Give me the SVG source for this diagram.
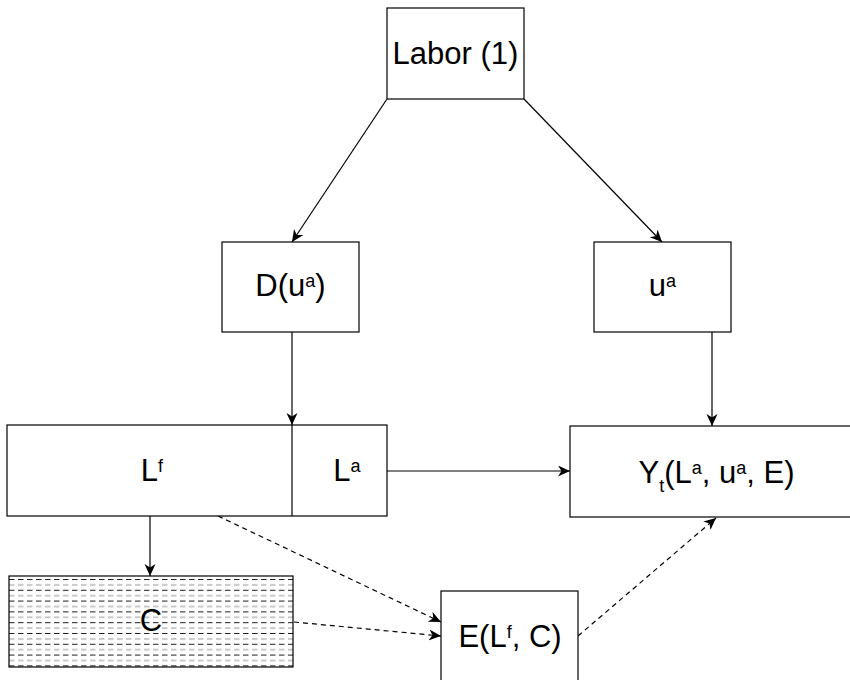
<svg xmlns="http://www.w3.org/2000/svg" width="850" height="680" viewBox="0 0 850 680">
<defs>
<style>
.box{fill:#fff;stroke:#000;stroke-width:1.2}
.t{font-family:"Liberation Sans",Arial,sans-serif;font-size:31px;fill:#000;text-anchor:middle}
.s{font-size:18px}
.e{fill:none;stroke:#000;stroke-width:1.2}
.d{stroke-dasharray:5 4}
</style>
<marker id="ah" markerUnits="userSpaceOnUse" markerWidth="14" markerHeight="12" refX="12" refY="5.5" orient="auto">
<path d="M0,0 L12,5.5 L0,11 L3.5,5.5 Z" fill="#000"/>
</marker>
<pattern id="hatch" patternUnits="userSpaceOnUse" x="9" y="578" width="9" height="10.8">
<line x1="0" y1="1.5" x2="5.5" y2="1.5" stroke="#000" stroke-width="0.9"/>
<line x1="0" y1="6.9" x2="5.5" y2="6.9" stroke="#888" stroke-width="0.9"/>
</pattern>
</defs>
<rect width="850" height="680" fill="#fff"/>
<g id="connectors">
<path class="e" d="M387,99 L292,242" marker-end="url(#ah)"/>
<path class="e" d="M524,99 L662,242" marker-end="url(#ah)"/>
<path class="e" d="M292,332 L292,425" marker-end="url(#ah)"/>
<path class="e" d="M712,332 L712,426" marker-end="url(#ah)"/>
<path class="e" d="M387,471 L570,471" marker-end="url(#ah)"/>
<path class="e" d="M150,516 L150,576" marker-end="url(#ah)"/>
<path class="e d" d="M218,516 L441,622" marker-end="url(#ah)"/>
<path class="e d" d="M294,622 L441,636" marker-end="url(#ah)"/>
<path class="e d" d="M578,636 L716,518" marker-end="url(#ah)"/>
</g>
<g id="labor">
<rect class="box" x="387" y="8" width="137" height="91"/>
<text class="t" x="455.5" y="64">Labor (1)</text>
</g>
<g id="d">
<rect class="box" x="222" y="242" width="137" height="90"/>
<text class="t" x="290.5" y="296">D(u<tspan class="s" dy="-9">a</tspan><tspan dy="9">)</tspan></text>
</g>
<g id="ua">
<rect class="box" x="594" y="242" width="137" height="90"/>
<text class="t" x="662.5" y="296">u<tspan class="s" dy="-9">a</tspan></text>
</g>
<g id="l">
<rect class="box" x="7" y="425" width="380" height="91"/>
<line x1="292" y1="425" x2="292" y2="516" stroke="#000" stroke-width="1.2"/>
<text class="t" x="152" y="481">L<tspan class="s" dy="-9">f</tspan></text>
<text class="t" x="347" y="481">L<tspan class="s" dy="-9">a</tspan></text>
</g>
<g id="y">
<rect class="box" x="570" y="426" width="292" height="91"/>
<text class="t" x="716.5" y="483">Y<tspan class="s" dy="9">t</tspan><tspan dy="-9">(L</tspan><tspan class="s" dy="-9">a</tspan><tspan dy="9">, u</tspan><tspan class="s" dy="-9">a</tspan><tspan dy="9">, E)</tspan></text>
</g>
<g id="c">
<rect x="9" y="576" width="284" height="91" fill="url(#hatch)" stroke="#000" stroke-width="1.2"/>
<text class="t" x="151" y="631">C</text>
</g>
<g id="e">
<rect class="box" x="441" y="591" width="137" height="92"/>
<text class="t" x="510" y="647">E(L<tspan class="s" dy="-9">f</tspan><tspan dy="9">, C)</tspan></text>
</g>
</svg>
